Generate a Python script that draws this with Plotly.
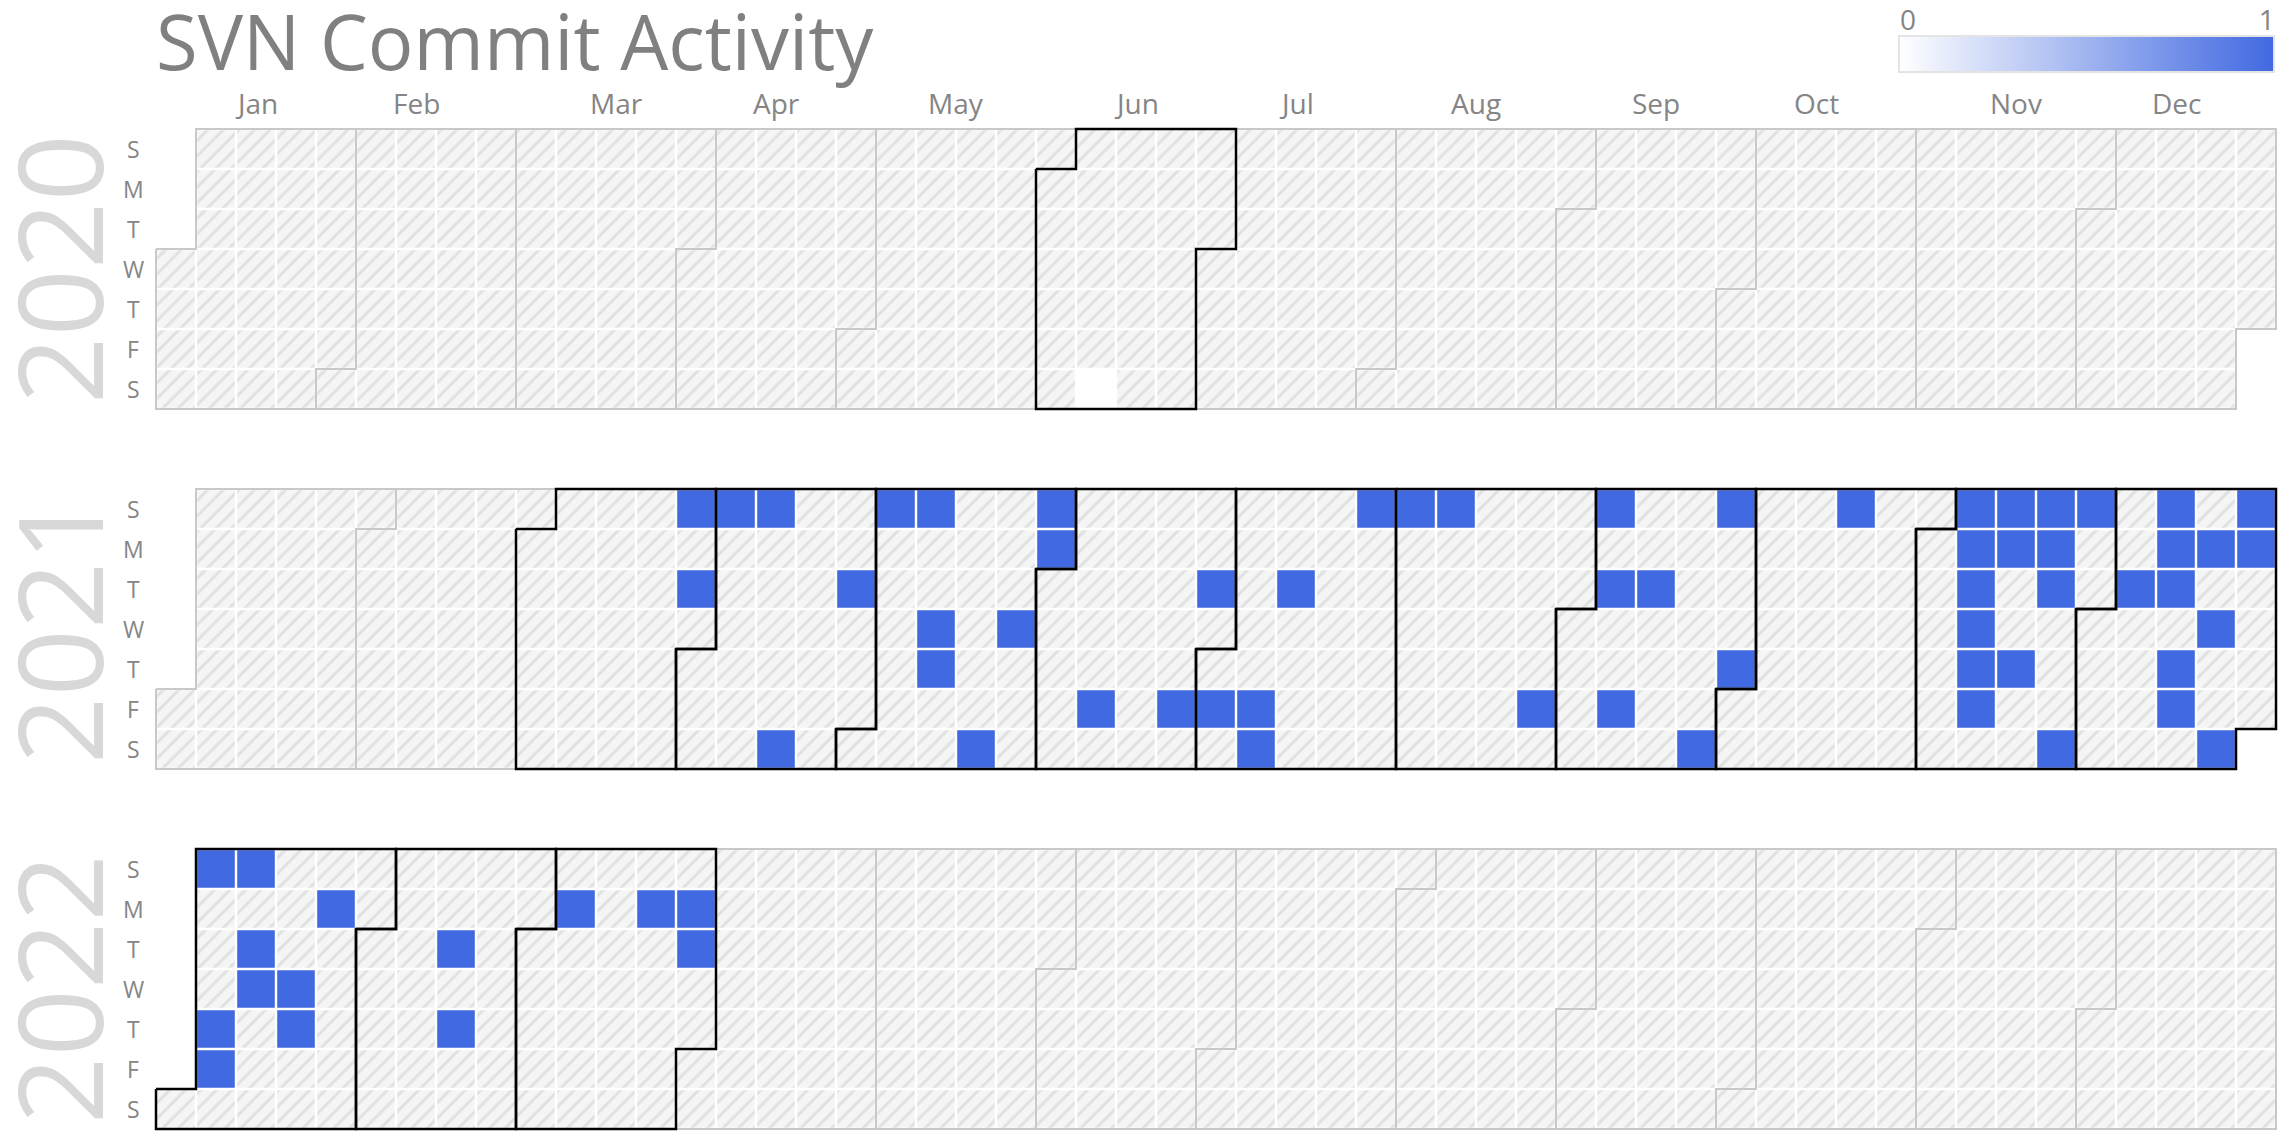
import datetime as dt
import plotly.graph_objects as go

# ---------------- data ----------------
YEARS = [2020, 2021, 2022]
MONTH_LABELS = ['Jan', 'Feb', 'Mar', 'Apr', 'May', 'Jun',
                'Jul', 'Aug', 'Sep', 'Oct', 'Nov', 'Dec']
DAY_LABELS = ['S', 'M', 'T', 'W', 'T', 'F', 'S']
TITLE = 'SVN Commit Activity'
SCALE_TICKS = [0, 1]

commit_dates = [
    '2020-06-13',
    '2021-03-28', '2021-03-30',
    '2021-04-04', '2021-04-11', '2021-04-17', '2021-04-27',
    '2021-05-02', '2021-05-09', '2021-05-12', '2021-05-13', '2021-05-22', '2021-05-26', '2021-05-30', '2021-05-31',
    '2021-06-11', '2021-06-25', '2021-06-29',
    '2021-07-02', '2021-07-09', '2021-07-10', '2021-07-13', '2021-07-25',
    '2021-08-01', '2021-08-08', '2021-08-27',
    '2021-09-05', '2021-09-07', '2021-09-10', '2021-09-14', '2021-09-25', '2021-09-26', '2021-09-30',
    '2021-10-17',
    '2021-11-07', '2021-11-08', '2021-11-09', '2021-11-10', '2021-11-11', '2021-11-12', '2021-11-14',
    '2021-11-15', '2021-11-18', '2021-11-21', '2021-11-22', '2021-11-23', '2021-11-27', '2021-11-28',
    '2021-12-07', '2021-12-12', '2021-12-13', '2021-12-14', '2021-12-16', '2021-12-17', '2021-12-20',
    '2021-12-22', '2021-12-25', '2021-12-26', '2021-12-27',
    '2022-01-02', '2022-01-06', '2022-01-07', '2022-01-09', '2022-01-11', '2022-01-12', '2022-01-19',
    '2022-01-20', '2022-01-24',
    '2022-02-15', '2022-02-17',
    '2022-03-07', '2022-03-21', '2022-03-28', '2022-03-29',
]
commit_values = [
    0,
    1, 1,
    1, 1, 1, 1,
    1, 1, 1, 1, 1, 1, 1, 1,
    1, 1, 1,
    1, 1, 1, 1, 1,
    1, 1, 1,
    1, 1, 1, 1, 1, 1, 1,
    1,
    1, 1, 1, 1, 1, 1, 1,
    1, 1, 1, 1, 1, 1, 1,
    1, 1, 1, 1, 1, 1, 1,
    1, 1, 1, 1,
    1, 1, 1, 1, 1, 1, 1,
    1, 1,
    1, 1,
    1, 1, 1, 1,
]

# ---------------- layout constants (screen pixels) ----------------
W, H = 2282, 1140
CELL = 40
GRID_LEFT = 156
GRID_TOPS = [129, 489, 849]
PAD = 0.12
GAP = 0.06
CB_LEFT, CB_RIGHT, CB_TOP, CB_BOTTOM = 1899, 2274, 37, 73

TEXT_GREY = '#858585'
FONT = 'Open Sans, Noto Sans, sans-serif'
HATCH_BG = '#f5f5f5'
HATCH_FG = '#cdcdcd'
COLORSCALE = [[0, '#ffffff'], [1, '#4169e1']]


def px(p):
    return p / W


def py(p):
    return 1 - p / H


def week_pos(d):
    jan1 = dt.date(d.year, 1, 1)
    off = (jan1.weekday() + 1) % 7
    doy = (d - jan1).days
    return (doy + off) // 7, (d.weekday() + 1) % 7


values = {dt.date.fromisoformat(s): v for s, v in zip(commit_dates, commit_values)}
months_with_data = {(d.year, d.month) for d in values}

fig = go.Figure()
annotations = []
layout_axes = {}

for k, year in enumerate(YEARS):
    xa = 'x' if k == 0 else f'x{k + 1}'
    ya = 'y' if k == 0 else f'y{k + 1}'
    top = GRID_TOPS[k]

    hx, hy = [], []
    dx, dy, dv = [], [], []
    d = dt.date(year, 1, 1)
    while d.year == year:
        c, r = week_pos(d)
        if d in values:
            dx.append(c + 0.5)
            dy.append(r + GAP / 2)
            dv.append(values[d])
        else:
            hx.append(c + 0.5)
            hy.append(r + GAP / 2)
        d += dt.timedelta(days=1)

    fig.add_trace(go.Bar(
        x=hx, base=hy, y=[1 - GAP] * len(hx), width=1 - GAP,
        marker=dict(color=HATCH_BG, line_width=0,
                    pattern=dict(shape='/', bgcolor=HATCH_BG, fgcolor=HATCH_FG,
                                 size=11, solidity=0.28)),
        xaxis=xa, yaxis=ya, hoverinfo='skip', showlegend=False))

    cb = dict(orientation='h', lenmode='pixels', len=CB_RIGHT - CB_LEFT,
              thicknessmode='pixels', thickness=CB_BOTTOM - CB_TOP,
              x=px((CB_LEFT + CB_RIGHT) / 2), xanchor='center',
              y=py((CB_TOP + CB_BOTTOM) / 2), yanchor='middle',
              xpad=0, ypad=0, ticks='', showticklabels=False,
              outlinewidth=2, outlinecolor='#e4e4e4', borderwidth=0)
    fig.add_trace(go.Bar(
        x=dx, base=dy, y=[1 - GAP] * len(dx), width=1 - GAP,
        marker=dict(color=dv, cmin=0, cmax=1, colorscale=COLORSCALE,
                    showscale=(k == 1), colorbar=cb, line_width=0),
        xaxis=xa, yaxis=ya, hoverinfo='skip', showlegend=False))

    # month outlines
    gx, gy, bx, by = [], [], [], []
    for m in range(1, 13):
        first = dt.date(year, m, 1)
        last = (dt.date(year + 1, 1, 1) if m == 12 else dt.date(year, m + 1, 1)) - dt.timedelta(days=1)
        c0, r0 = week_pos(first)
        c1, r1 = week_pos(last)
        xs = [c0, c0 + 1, c0 + 1, c1 + 1, c1 + 1, c1, c1, c0, c0, None]
        ys = [r0, r0, 0, 0, r1 + 1, r1 + 1, 7, 7, r0, None]
        if (year, m) in months_with_data:
            bx += xs; by += ys
        else:
            gx += xs; gy += ys
        if k == 0:
            annotations.append(dict(
                text=MONTH_LABELS[m - 1], x=(c0 + c1 + 1) / 2, xref=xa, xanchor='center',
                y=py(103), yref='paper', yanchor='middle', showarrow=False,
                font=dict(size=28, color=TEXT_GREY, family=FONT)))
    fig.add_trace(go.Scatter(x=gx, y=gy, mode='lines', line=dict(color='#c8c8c8', width=2),
                             xaxis=xa, yaxis=ya, hoverinfo='skip', showlegend=False))
    fig.add_trace(go.Scatter(x=bx, y=by, mode='lines', line=dict(color='#000000', width=2.5),
                             xaxis=xa, yaxis=ya, hoverinfo='skip', showlegend=False))

    for r, lab in enumerate(DAY_LABELS):
        annotations.append(dict(text=lab, x=px(133), xref='paper', xanchor='center',
                                y=r + 0.5, yref=ya, yanchor='middle',
                                showarrow=False, font=dict(size=23, color=TEXT_GREY, family=FONT)))
    annotations.append(dict(text=str(year), x=px(57), xref='paper', xanchor='center',
                            y=3.5, yref=ya, yanchor='middle', height=112,
                            textangle=-90, showarrow=False,
                            font=dict(size=118, color='#d8d8d8', family=FONT)))

    layout_axes['xaxis' if k == 0 else f'xaxis{k + 1}'] = dict(
        visible=False, fixedrange=True, range=[-PAD, 53 + PAD],
        domain=[px(GRID_LEFT - PAD * CELL), px(GRID_LEFT + (53 + PAD) * CELL)], anchor=ya)
    layout_axes['yaxis' if k == 0 else f'yaxis{k + 1}'] = dict(
        visible=False, fixedrange=True, range=[7 + PAD, -PAD],
        domain=[py(top + (7 + PAD) * CELL), py(top - PAD * CELL)], anchor=xa)

# axis carrying the colour-scale labels above the colour bar
lo, hi = -0.025, 1.02
fig.add_trace(go.Scatter(x=SCALE_TICKS, y=[0, 0], mode='markers', marker=dict(opacity=0),
                         xaxis='x4', yaxis='y4', hoverinfo='skip', showlegend=False))
layout_axes['xaxis4'] = dict(domain=[px(CB_LEFT), px(CB_RIGHT)], range=[lo, hi], anchor='y4',
                             side='top', showgrid=False, zeroline=False, showline=False,
                             ticks='', tickvals=SCALE_TICKS, ticktext=[str(t) for t in SCALE_TICKS],
                             tickfont=dict(size=28, color=TEXT_GREY, family=FONT),
                             fixedrange=True)
layout_axes['yaxis4'] = dict(domain=[py(CB_BOTTOM), py(CB_TOP)], range=[-1, 1], anchor='x4',
                             visible=False, fixedrange=True)

annotations.append(dict(text=TITLE, x=px(154), xref='paper', xanchor='left',
                        y=py(40), yref='paper', yanchor='middle', showarrow=False,
                        font=dict(size=76, color='#808080', family=FONT)))

fig.update_layout(
    width=W, height=H, margin=dict(l=0, r=0, t=0, b=0),
    paper_bgcolor='white', plot_bgcolor='rgba(0,0,0,0)',
    barmode='overlay', annotations=annotations, font=dict(family=FONT),
    hovermode=False, **layout_axes)

fig.write_html('out.html', config={'displayModeBar': False, 'staticPlot': True},
               post_script="document.body.style.margin='0';document.body.style.overflow='hidden';")
